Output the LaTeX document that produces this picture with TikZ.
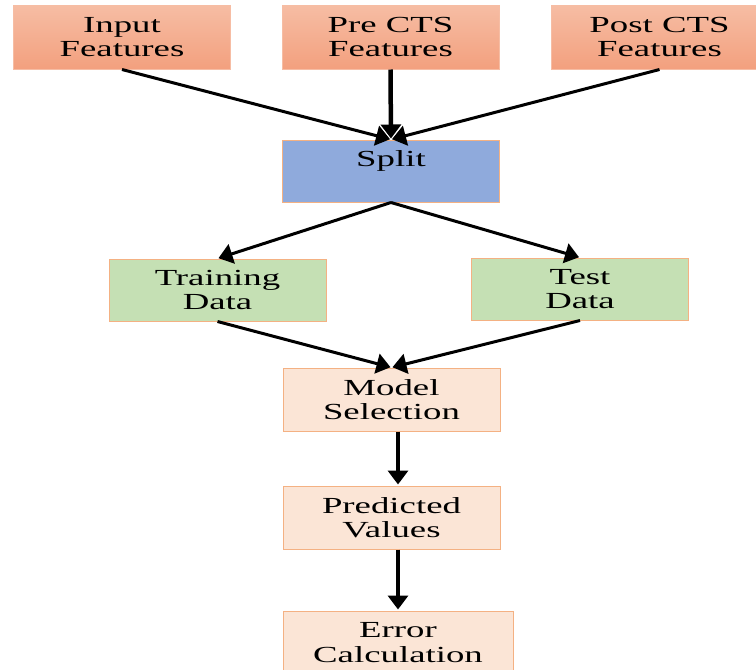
\documentclass[tikz,border=0pt]{standalone}
\usepackage{fontspec}
\usepackage{xcolor}
\usepackage{tikz}
\usetikzlibrary{arrows.meta, positioning}
\newfontfamily\boxfont[FakeStretch=1.6]{Liberation Serif}
\definecolor{saltop}{HTML}{F6BDA4}
\definecolor{salbot}{HTML}{F3A07E}
\definecolor{splitblue}{HTML}{8FAADC}
\definecolor{datagreen}{HTML}{C5E0B4}
\definecolor{peach}{HTML}{FBE5D6}
\definecolor{edgeorange}{HTML}{F4B183}

\begin{document}
\begin{tikzpicture}[x=1pt, y=-1pt,
  box/.style={draw=edgeorange, line width=1pt, minimum width=217pt, minimum height=63pt,
    align=center, inner sep=0pt, font=\boxfont\fontsize{23}{24.5}\selectfont},
  feat/.style={box, draw=saltop, top color=saltop, bottom color=salbot, minimum height=64pt},
  splitbox/.style={box, fill=splitblue, minimum height=62pt},
  databox/.style={box, fill=datagreen, minimum height=62pt},
  stagebox/.style={box, fill=peach},
  arrow/.style={-{Triangle[length=14pt, width=20pt]}, line width=3pt, shorten >=1pt},
  varrow/.style={arrow, line width=4.5pt}
]
  \clip (0,0) rectangle (756,670);
  \useasboundingbox (0,0) rectangle (756,670);

  % Feature sources
  \node[feat] (input) at (122, 37)   {Input\\Features};
  \node[feat] (pre)   at (390.5, 37) {Pre CTS\\Features};
  \node[feat] (post)  at (659.5, 37) {Post CTS\\Features};

  % Split
  \node[splitbox] (split) at (391, 171) {Split\\\phantom{S}};

  % Train / test
  \node[databox] (train) at (217.5, 290) {Training\\Data};
  \node[databox] (test)  at (580, 289)   {Test\\Data};

  % Model stages
  \node[stagebox] (model) at (391.5, 399.5) {Model\\Selection};
  \node[stagebox] (pred)  at (391.5, 517.5) {Predicted\\Values};
  \node[stagebox, minimum width=230pt] (err) at (398, 642.5) {Error\\Calculation};

  % Connectors
  \draw[arrow]  (input.south) -- (split.north);
  \draw[varrow] (pre.south)   -- (split.north);
  \draw[arrow]  (post.south)  -- (split.north);
  \draw[arrow]  (split.south) -- (train.north);
  \draw[arrow]  (split.south) -- (test.north);
  \draw[arrow]  (train.south) -- (model.north);
  \draw[arrow]  (test.south)  -- (model.north);
  \draw[varrow] (model.south -| err) -- (pred.north -| err);
  \draw[varrow] (pred.south -| err)  -- (err.north);

\end{tikzpicture}
\end{document}
